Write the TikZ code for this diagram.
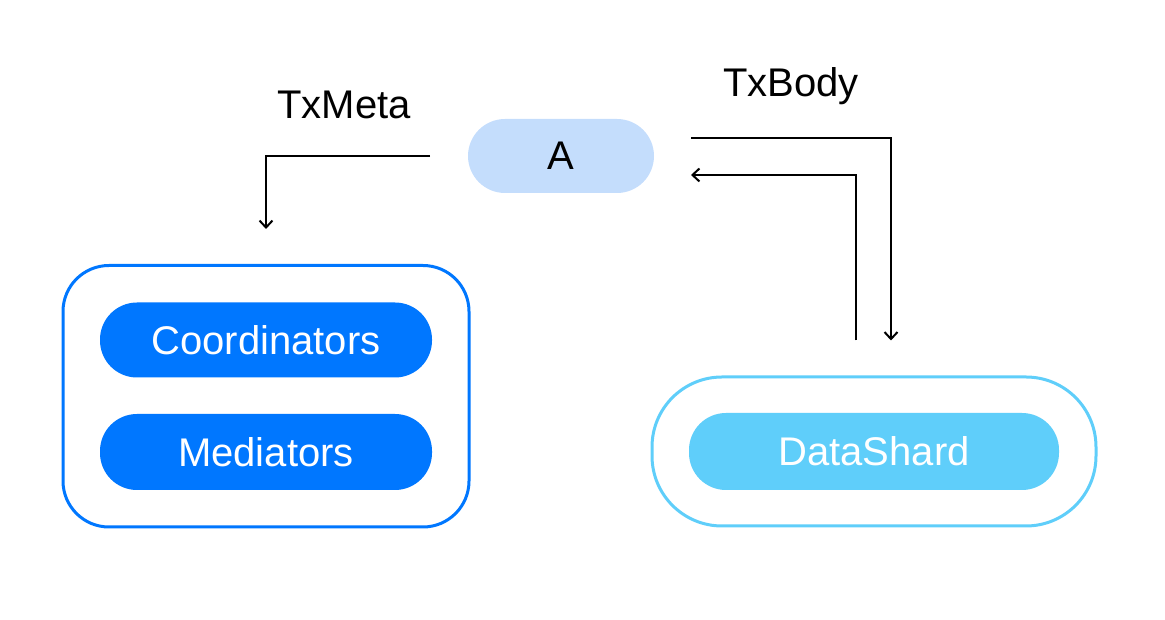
\documentclass[tikz,border=0pt]{standalone}
\usepackage{fontspec}
\setmainfont{Liberation Sans}
\usetikzlibrary{arrows.meta,fit,backgrounds,calc,positioning}
\definecolor{lightpill}{HTML}{C4DDFC}
\definecolor{deepblue}{HTML}{0077FF}
\definecolor{skyblue}{HTML}{5FCEFA}
\definecolor{ink}{HTML}{000000}

\begin{document}
\begin{tikzpicture}[x=1pt, y=1pt,
  font=\fontsize{40}{46}\selectfont, >={Straight Barb[length=7pt, width=13pt]}, line width=2pt, ink,
  pill/.style={rounded corners=37pt, minimum height=75pt, inner sep=0pt, align=center},
  txpill/.style={pill, fill=lightpill, minimum width=186pt, minimum height=74pt, text=ink},
  rolepill/.style={pill, fill=deepblue, minimum width=332pt, text=white},
  shardpill/.style={pill, fill=skyblue, minimum width=370pt, minimum height=77pt, text=white},
  frame/.style={draw, line width=3pt, inner sep=36pt, fill=white},
  lab/.style={text=ink},
  arr/.style={->, draw=ink}]
\useasboundingbox (0,0) rectangle (1165,620);
% ---------- coordinator side
\node[rolepill] (coord) at (266,280) {Coordinators};
\node[rolepill, minimum height=76pt] (med) at (266,168) {Mediators};
% ---------- shard side
\node[shardpill] (ds) at (874,168.5) {DataShard};
% ---------- frames
\begin{scope}[on background layer]
\node[frame, draw=deepblue, rounded corners=46pt, fit=(coord)(med)] (tx) {};
\node[frame, draw=skyblue, rounded corners=70pt, inner ysep=35pt, fit=(ds)] (shard) {};
\end{scope}
% ---------- transaction and labels
\node[txpill] (a) at (561,464) {A};
\node[lab] (meta) at (344,515) {TxMeta};
\node[lab] (body) at (791,534) {TxBody};
% ---------- edges
\draw[arr, shorten <=37pt, shorten >=35pt] (a.west) -| (tx.north);
\draw[arr, shorten <=36pt, shorten >=35pt] ([yshift=18pt]a.east) -| ([xshift=17pt]shard.north);
\draw[arr, shorten <=35pt, shorten >=36pt] ([xshift=-18pt]shard.north) |- ([yshift=-19pt]a.east);
\end{tikzpicture}
\end{document}
